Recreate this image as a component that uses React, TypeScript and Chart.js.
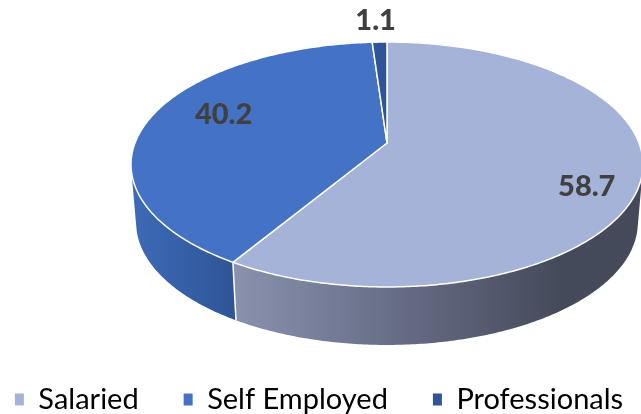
import React, { useEffect, useRef } from "react";
import { Chart, registerables } from "chart.js";

Chart.register(...registerables);

const categories = ["Salaried", "Self Employed", "Professionals"];
const shares = [58.7, 40.2, 1.1];
const topColors = ["#A5B3D9", "#4472C4", "#2F5597"];

// projective view of the pie's top disc and its extruded rim
const view = { cx: 387, rx: 252, apexY: 143, a: 93.6, c: -0.1755, depth: 58, shrink: 0.98 };
const wallStops = [
  [[232, "#8A92AE"], [400, "#666C85"], [560, "#454A5B"], [641, "#454A5B"]],
  [[131, "#3D6BB8"], [232, "#2F5597"]],
  [[360, "#2F5597"], [400, "#2F5597"]],
];
const labelPlacement = [
  { r: 0.8, dx: -2, dy: 17 },
  { r: 0.6, dx: -20, dy: -12 },
  { r: 1, dx: -4, dy: -21 },
];

const project = (u: number, v: number) => {
  const d = 1 + view.c * v;
  return { x: view.cx + (view.rx * u) / d, y: (view.a * v + view.apexY) / d };
};
const rim = (angle: number, r = 1) => project(r * Math.cos(angle), r * Math.sin(angle));
const lowerRim = (angle: number) => {
  const p = rim(angle);
  return { x: view.cx + (p.x - view.cx) * view.shrink, y: p.y + view.depth };
};

const sweep = (start: number, end: number) => {
  const n = Math.max(2, Math.ceil(Math.abs(end - start) / 0.01));
  const out: number[] = [];
  for (let i = 0; i <= n; i++) out.push(start + ((end - start) * i) / n);
  return out;
};

const pie3d = {
  id: "pie3d",
  beforeDatasetsDraw(chart: any) {
    const ctx = chart.ctx;
    const arcs = chart.getDatasetMeta(0).data;
    ctx.save();
    // walls, back to front: one path of equally wound quads, so the strip fills as a union
    [2, 1, 0].forEach((i) => {
      const { startAngle, endAngle } = arcs[i];
      const angles = sweep(startAngle, endAngle);
      const stops = wallStops[i] as any[];
      const g = ctx.createLinearGradient(stops[0][0], 0, stops[stops.length - 1][0], 0);
      const span = stops[stops.length - 1][0] - stops[0][0];
      stops.forEach((s) => g.addColorStop((s[0] - stops[0][0]) / span, s[1]));
      ctx.fillStyle = g;
      ctx.beginPath();
      for (let k = 0; k < angles.length - 1; k++) {
        let quad = [rim(angles[k]), rim(angles[k + 1]), lowerRim(angles[k + 1]), lowerRim(angles[k])];
        let area = 0;
        quad.forEach((p, j) => {
          const q = quad[(j + 1) % 4];
          area += p.x * q.y - q.x * p.y;
        });
        if (area < 0) quad = quad.reverse();
        quad.forEach((p, j) => (j ? ctx.lineTo(p.x, p.y) : ctx.moveTo(p.x, p.y)));
        ctx.closePath();
      }
      ctx.fill("nonzero");
    });
    // wall separator at the front
    const seam = arcs[0].endAngle;
    const a = rim(seam);
    const b = lowerRim(seam);
    ctx.strokeStyle = "#FFFFFF";
    ctx.lineWidth = 1.5;
    ctx.beginPath();
    ctx.moveTo(a.x, a.y);
    ctx.lineTo(b.x, b.y);
    ctx.stroke();
    // top disc
    arcs.forEach((arc: any, i: number) => {
      const apex = project(0, 0);
      ctx.beginPath();
      ctx.moveTo(apex.x, apex.y);
      sweep(arc.startAngle, arc.endAngle).forEach((t) => {
        const p = rim(t);
        ctx.lineTo(p.x, p.y);
      });
      ctx.closePath();
      ctx.fillStyle = topColors[i];
      ctx.fill();
      ctx.strokeStyle = "#FFFFFF";
      ctx.lineWidth = 1.5;
      ctx.lineJoin = "round";
      ctx.stroke();
    });
    // value labels
    ctx.fillStyle = "#404040";
    ctx.font = "900 29px Lato, 'Open Sans', sans-serif";
    ctx.textAlign = "center";
    ctx.textBaseline = "middle";
    arcs.forEach((arc: any, i: number) => {
      const mid = (arc.startAngle + arc.endAngle) / 2;
      const pl = labelPlacement[i];
      const p = rim(mid, pl.r);
      ctx.fillText(String(shares[i]), p.x + pl.dx, p.y + pl.dy);
    });
    ctx.restore();
    return false;
  },
};

export default function App() {
  const ref = useRef<HTMLCanvasElement>(null);
  useEffect(() => {
    document.body.style.margin = "0";
    const chart = new Chart(ref.current!, {
      type: "pie",
      data: {
        labels: categories,
        datasets: [{ data: shares, backgroundColor: topColors, borderWidth: 0 }],
      },
      options: {
        animation: false,
        responsive: false,
        layout: { padding: { left: -60, right: -57, bottom: -10 } },
        plugins: {
          legend: {
            position: "bottom",
            labels: {
              usePointStyle: true,
              pointStyle: "rect",
              pointStyleWidth: 9,
              boxHeight: 12,
              padding: 45,
              color: "#000000",
              font: { family: "Lato, 'Open Sans', sans-serif", size: 29 },
            },
          },
          tooltip: { enabled: false },
        },
      },
      plugins: [pie3d],
    } as any);
    return () => chart.destroy();
  }, []);
  return <canvas ref={ref} width={641} height={414} style={{ display: "block" }} />;
}
